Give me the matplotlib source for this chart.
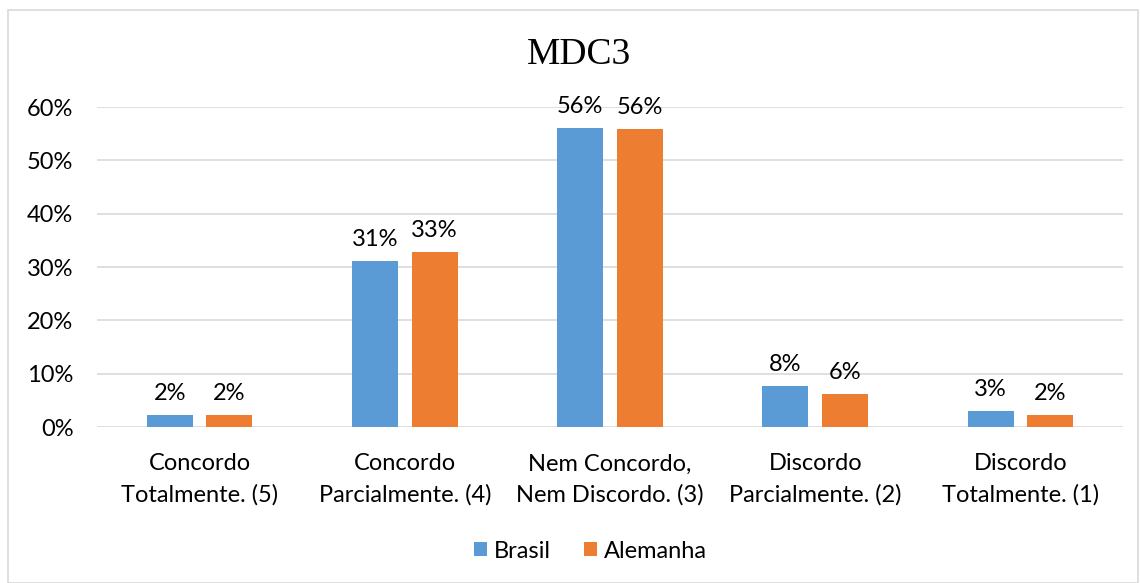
import matplotlib
matplotlib.use('Agg')
import matplotlib.pyplot as plt
import numpy as np
from matplotlib.patches import Rectangle

categories = ["Concordo\nTotalmente. (5)", "Concordo\nParcialmente. (4)",
              "Nem Concordo,\nNem Discordo. (3)", "Discordo\nParcialmente. (2)",
              "Discordo\nTotalmente. (1)"]
brasil = [0.023, 0.311, 0.561, 0.076, 0.030]
alemanha = [0.023, 0.328, 0.558, 0.061, 0.023]
yticks = [0, 0.1, 0.2, 0.3, 0.4, 0.5, 0.6]

blue = '#5B9BD5'
orange = '#ED7D31'
grid = '#D9D9D9'
txt = '#000000'
fs = 17

plt.rcParams['font.family'] = ['Lato', 'DejaVu Sans']

fig = plt.figure(figsize=(11.4, 5.83), dpi=100)
# chart frame
fig.patches.append(Rectangle((8 / 1140, 0), 1130 / 1140, 1 - 10 / 583,
                             transform=fig.transFigure, fill=False,
                             edgecolor=grid, lw=1.2))

ax = fig.add_axes([97 / 1140, 1 - 427 / 583, 1026 / 1140, 320 / 583])
x = np.arange(len(categories))
w = 0.224
off = 0.145
b1 = ax.bar(x - off, brasil, w, color=blue, label='Brasil', zorder=3)
b2 = ax.bar(x + off, alemanha, w, color=orange, label='Alemanha', zorder=3)

for bars, vals in ((b1, brasil), (b2, alemanha)):
    for r, v in zip(bars, vals):
        ax.annotate(f"{v * 100:.0f}%", (r.get_x() + r.get_width() / 2, v),
                    xytext=(0, 8), textcoords='offset points',
                    ha='center', va='bottom', fontsize=fs, color=txt)

ax.set_xlim(-0.5, len(categories) - 0.5)
ax.set_ylim(0, 0.6)
ax.set_yticks(yticks)
ax.set_yticklabels([f"{t * 100:.0f}%" for t in yticks])
ax.set_xticks(x)
ax.set_xticklabels(categories, linespacing=1.55)
ax.tick_params(axis='y', length=0, pad=17, labelsize=fs, colors=txt)
ax.tick_params(axis='x', length=0, pad=19, labelsize=fs, colors=txt)
ax.grid(axis='y', color=grid, lw=1.2, zorder=0)
for s in ax.spines.values():
    s.set_visible(False)

fig.text(0.508, 1 - 55 / 583, 'MDC3', ha='center', va='center',
         fontsize=27, family='Liberation Serif', color=txt)

fig.legend(handles=[b1, b2], labels=['Brasil', 'Alemanha'], loc='center',
           bbox_to_anchor=(0.518, 1 - 551 / 583), ncol=2, frameon=False,
           fontsize=fs, handlelength=0.55, handleheight=0.55,
           handletextpad=0.3, columnspacing=1.4)

fig.savefig('out.png', dpi=100)
